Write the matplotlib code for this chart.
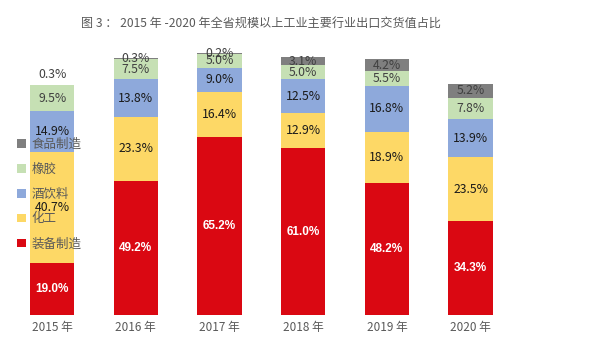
import matplotlib.pyplot as plt
import numpy as np

plt.rcParams['font.family'] = ['Noto Sans CJK SC', 'DejaVu Sans']

years = ['2015 年', '2016 年', '2017 年', '2018 年', '2019 年', '2020 年']
series_names = ['装备制造', '化工', '酒饮料', '橡胶', '食品制造']
equip = [19.0, 49.2, 65.2, 61.0, 48.2, 34.3]
chem = [40.7, 23.3, 16.4, 12.9, 18.9, 23.5]
drink = [14.9, 13.8, 9.0, 12.5, 16.8, 13.9]
rubber = [9.5, 7.5, 5.0, 5.0, 5.5, 7.8]
food = [0.3, 0.3, 0.2, 3.1, 4.2, 5.2]

colors = ['#DA0812', '#FDD866', '#8EA9DB', '#C6E0B4', '#7F7F7F']
label_colors = ['white', '#1a1a1a', '#1a1a1a', '#404040', '#404040']

fig = plt.figure(figsize=(6.05, 3.40), dpi=100)
ax = fig.add_axes([0.017, 0.0735, 0.83, 0.803])

x = np.arange(len(years))
bottom = np.zeros(len(years))
all_series = [equip, chem, drink, rubber, food]
handles = []
for i, vals in enumerate(all_series):
    vals = np.array(vals)
    h = ax.bar(x, vals, 0.53, bottom=bottom, color=colors[i], label=series_names[i])
    handles.append(h)
    for j, v in enumerate(vals):
        y = bottom[j] + v / 2
        if i == 4 and j == 0:
            y = bottom[j] + v + 3.8
        if i == 0:
            ax.text(x[j], y, f'{v:.1f}%', ha='center', va='center', color='white',
                    fontsize=8.5, fontweight='bold',
                    family=['Liberation Sans Narrow', 'Liberation Sans', 'DejaVu Sans'])
        else:
            ax.text(x[j], y, f'{v:.1f}%', ha='center', va='center',
                    color=label_colors[i], fontsize=8.8)
    bottom += vals

ax.set_xlim(-0.5, 5.5)
ax.set_ylim(0, 100)
ax.set_xticks(x)
ax.set_xticklabels(years, fontsize=8.5, color='#595959')
ax.tick_params(axis='x', length=0, pad=4)
ax.set_yticks([])
for s in ax.spines.values():
    s.set_visible(False)

fig.text(0.431, 0.932, '图 3 ： 2015 年 -2020 年全省规模以上工业主要行业出口交货值占比',
         ha='center', va='center', fontsize=8.7, color='#595959')

leg = ax.legend(handles[::-1], series_names[::-1], loc='center left',
                bbox_to_anchor=(0.003, 0.443), frameon=False, fontsize=9,
                handlelength=0.7, handleheight=0.7, handletextpad=0.5,
                labelspacing=0.95, borderaxespad=0)
for t in leg.get_texts():
    t.set_color('#595959')

fig.savefig('out.png', dpi=100)
